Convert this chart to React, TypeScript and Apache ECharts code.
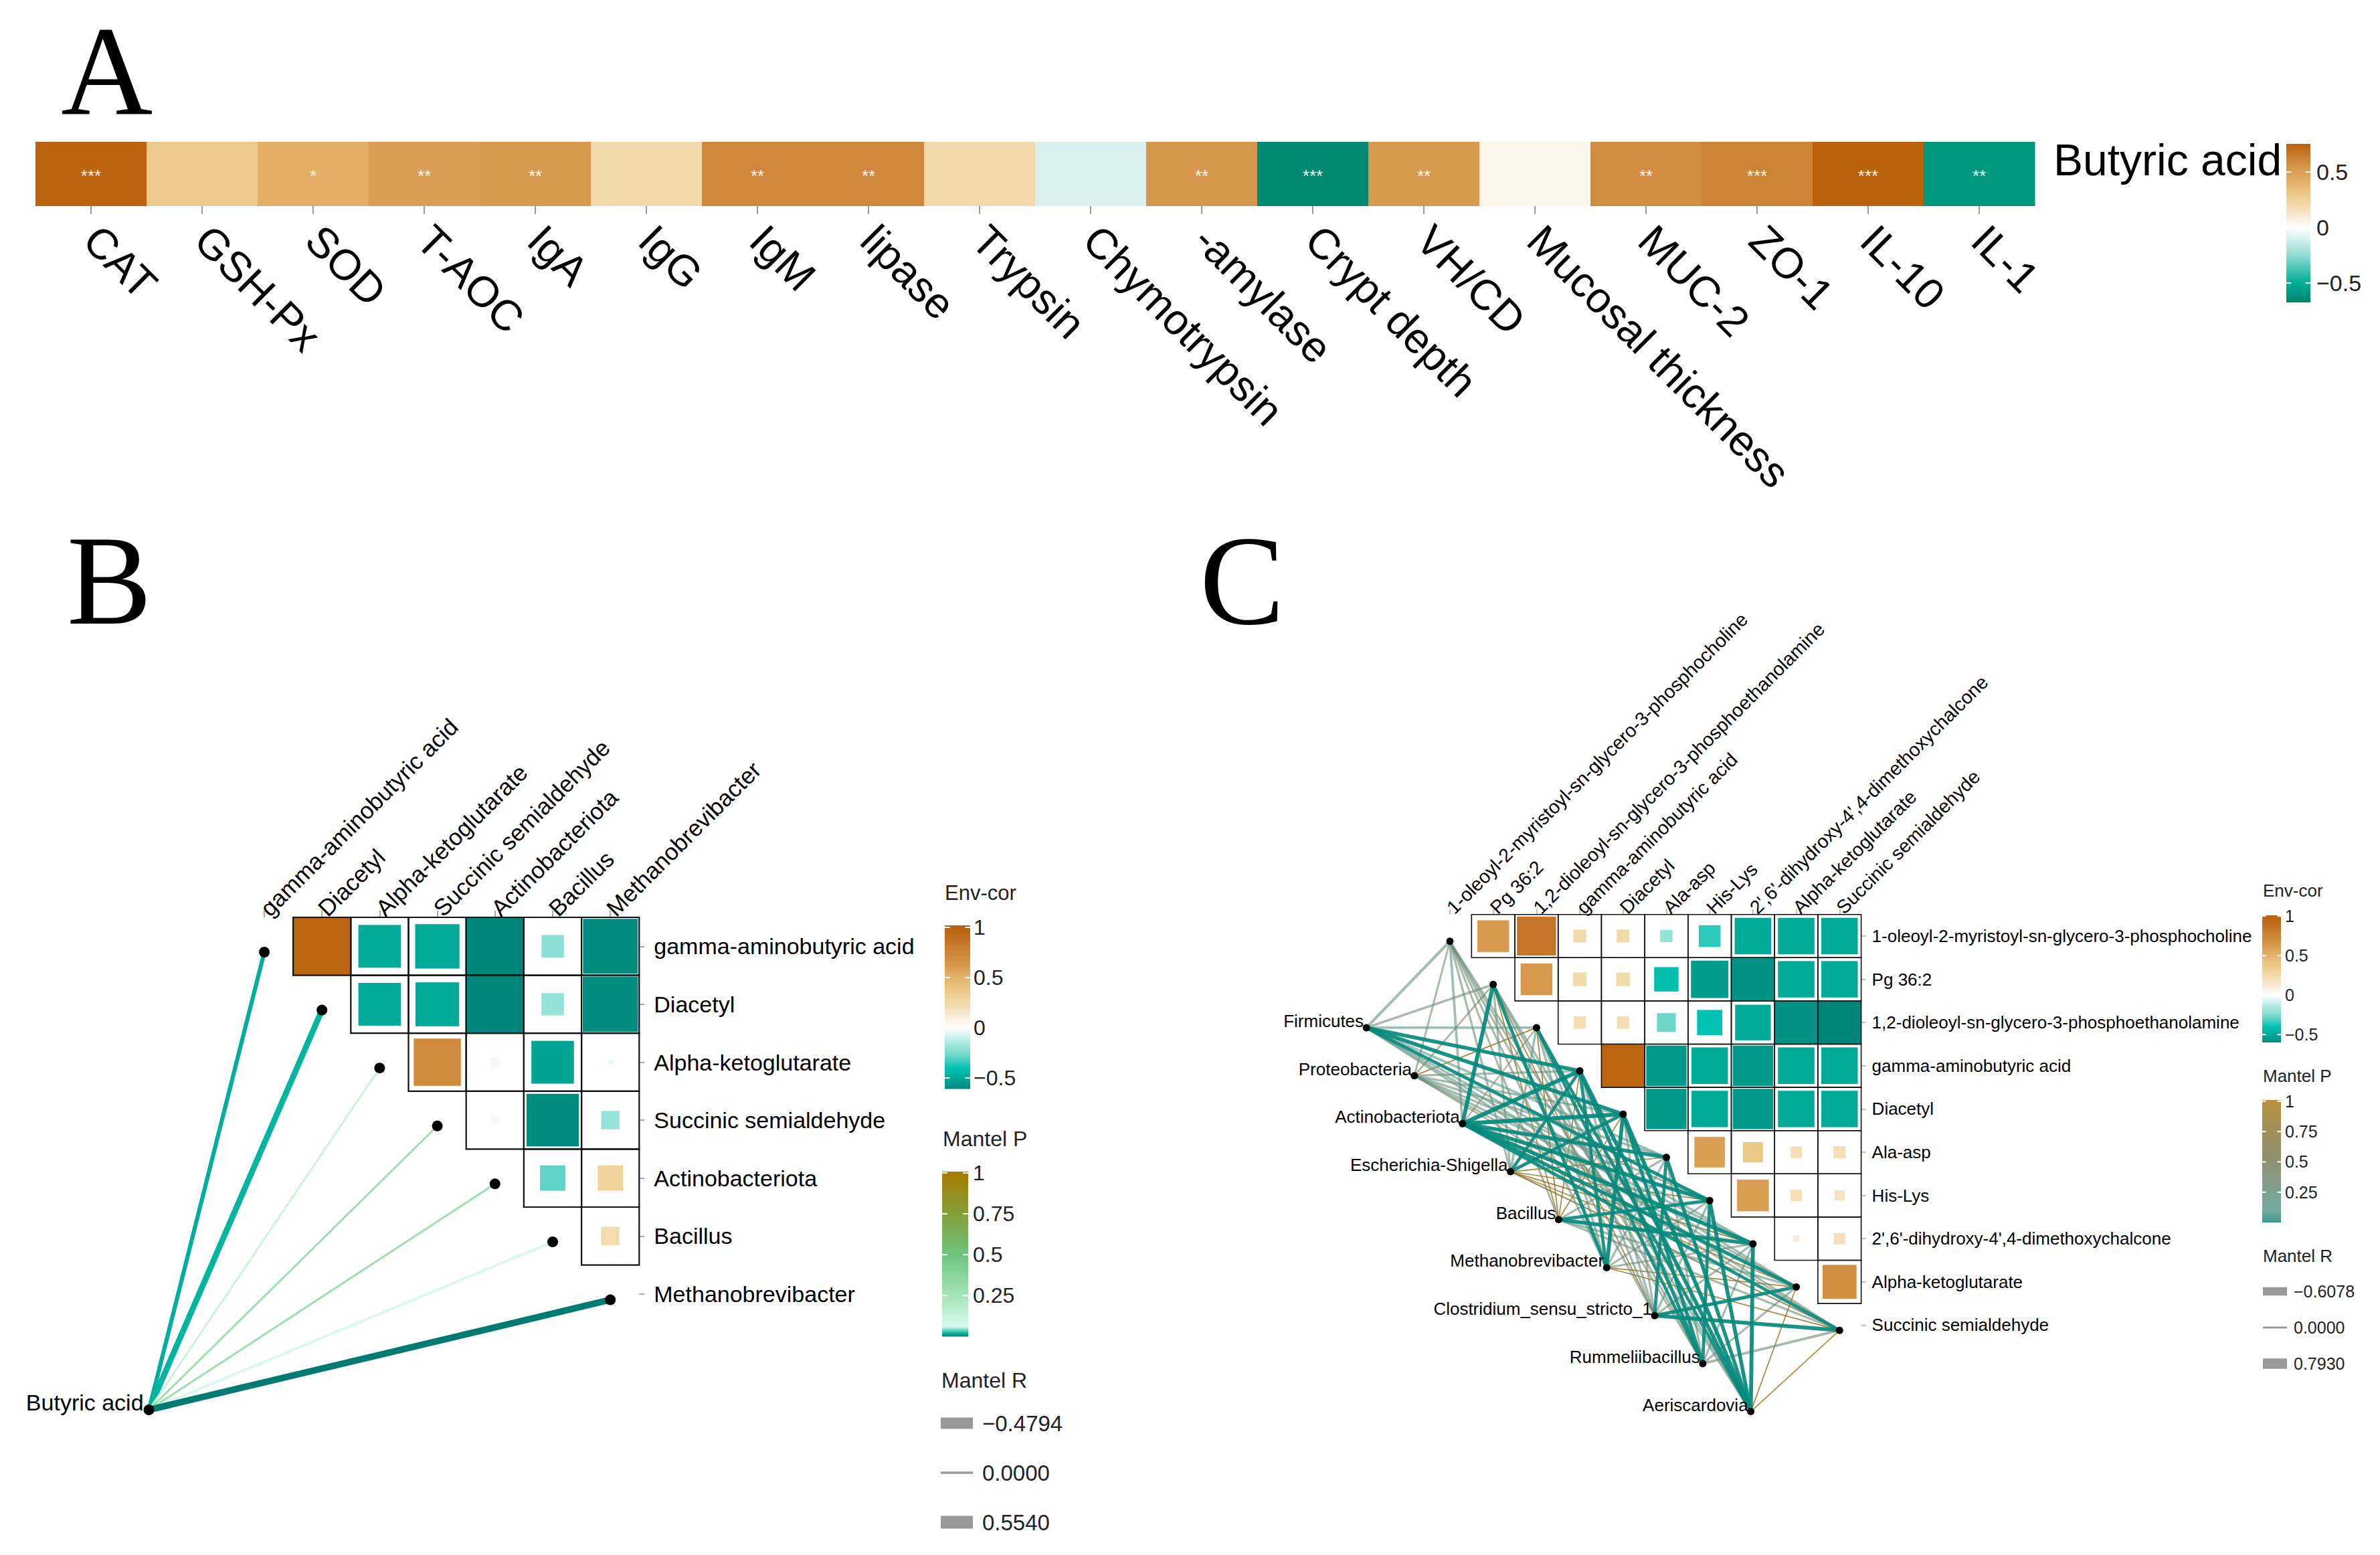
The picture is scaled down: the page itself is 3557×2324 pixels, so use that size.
import React, { useEffect, useRef } from 'react';
import * as echarts from 'echarts';

const W = 3557;
const H = 2324;
const SANS = '"Liberation Sans", Arial, Helvetica, sans-serif';
const SERIF = '"Liberation Serif", "Times New Roman", Times, serif';

// ---------------- Panel A data ----------------
const aCategories = ['CAT', 'GSH-Px', 'SOD', 'T-AOC', 'IgA', 'IgG', 'IgM', 'lipase', 'Trypsin', 'Chymotrypsin', '-amylase', 'Crypt depth', 'VH/CD', 'Mucosal thickness', 'MUC-2', 'ZO-1', 'IL-10', 'IL-1'];
const aValues = [0.74, 0.3, 0.42, 0.51, 0.53, 0.2, 0.6, 0.6, 0.2, -0.1, 0.54, -0.66, 0.53, 0.05, 0.58, 0.62, 0.75, -0.6];
const aStars = ['***', '', '*', '**', '**', '', '**', '**', '', '', '**', '***', '**', '', '**', '***', '***', '**'];
const aRowLabel = ['Butyric acid'];
const aBarTicks = [0.5, 0, -0.5];
const aBarRange = [-0.675, 0.753];

// ---------------- Panel B data ----------------
const bVars = ['gamma-aminobutyric acid', 'Diacetyl', 'Alpha-ketoglutarate', 'Succinic semialdehyde', 'Actinobacteriota', 'Bacillus', 'Methanobrevibacter'];
// [row, col, r, square side fraction]
const bCells = [
  [0, 1, 0.98, 1.0], [0, 2, -0.5, 0.75], [0, 3, -0.5, 0.78], [0, 4, -0.62, 1.0], [0, 5, -0.22, 0.4], [0, 6, -0.6, 0.96],
  [1, 2, -0.5, 0.75], [1, 3, -0.5, 0.77], [1, 4, -0.62, 1.0], [1, 5, -0.2, 0.4], [1, 6, -0.6, 0.97],
  [2, 3, 0.72, 0.83], [2, 4, 0.06, 0.17], [2, 5, -0.52, 0.75], [2, 6, -0.04, 0.1],
  [3, 4, 0.05, 0.15], [3, 5, -0.6, 0.92], [3, 6, -0.2, 0.33],
  [4, 5, -0.3, 0.45], [4, 6, 0.3, 0.45],
  [5, 6, 0.22, 0.33],
];
const bSource = 'Butyric acid';
const bMantelP = [0.018, 0.02, 0.12, 0.3, 0.28, 0.065, 0.001];
const bMantelR = [0.3, -0.4794, 0.05, 0.06, 0.08, 0.12, 0.554];
const bEnvTicks = [1, 0.5, 0, -0.5];
const bPTicks = [1, 0.75, 0.5, 0.25];
const bRLegend = [-0.4794, 0, 0.554];

// ---------------- Panel C data ----------------
const cVars = ['1-oleoyl-2-myristoyl-sn-glycero-3-phosphocholine', 'Pg 36:2', '1,2-dioleoyl-sn-glycero-3-phosphoethanolamine', 'gamma-aminobutyric acid', 'Diacetyl', 'Ala-asp', 'His-Lys', "2',6'-dihydroxy-4',4-dimethoxychalcone", 'Alpha-ketoglutarate', 'Succinic semialdehyde'];
const cSpecies = ['Firmicutes', 'Proteobacteria', 'Actinobacteriota', 'Escherichia-Shigella', 'Bacillus', 'Methanobrevibacter', 'Clostridium_sensu_stricto_1', 'Rummeliibacillus', 'Aeriscardovia'];
const cCells = [
  [0, 1, 0.62, 0.75], [0, 2, 0.85, 0.92], [0, 3, 0.25, 0.31], [0, 4, 0.25, 0.31], [0, 5, -0.2, 0.3], [0, 6, -0.35, 0.52], [0, 7, -0.5, 0.86], [0, 8, -0.5, 0.86], [0, 9, -0.5, 0.86],
  [1, 2, 0.62, 0.75], [1, 3, 0.25, 0.33], [1, 4, 0.25, 0.33], [1, 5, -0.42, 0.58], [1, 6, -0.55, 0.88], [1, 7, -0.58, 1.0], [1, 8, -0.5, 0.86], [1, 9, -0.5, 0.86],
  [2, 3, 0.22, 0.3], [2, 4, 0.22, 0.3], [2, 5, -0.28, 0.45], [2, 6, -0.4, 0.6], [2, 7, -0.5, 0.84], [2, 8, -0.58, 1.0], [2, 9, -0.62, 1.0],
  [3, 4, 0.98, 1.0], [3, 5, -0.56, 0.95], [3, 6, -0.5, 0.86], [3, 7, -0.56, 0.95], [3, 8, -0.5, 0.86], [3, 9, -0.5, 0.86],
  [4, 5, -0.56, 0.95], [4, 6, -0.5, 0.86], [4, 7, -0.56, 0.95], [4, 8, -0.5, 0.86], [4, 9, -0.5, 0.86],
  [5, 6, 0.6, 0.72], [5, 7, 0.38, 0.48], [5, 8, 0.2, 0.28], [5, 9, 0.2, 0.3],
  [6, 7, 0.6, 0.75], [6, 8, 0.2, 0.28], [6, 9, 0.18, 0.25],
  [7, 8, 0.12, 0.17], [7, 9, 0.2, 0.28],
  [8, 9, 0.7, 0.8],
];
// rows: species, cols: variables
const cMantelP = [
  [0.2, 0.3, 0.15, 0.003, 0.002, 0.1, 0.004, 0.2, 0.15, 0.25],
  [0.35, 0.5, 0.9, 0.3, 0.25, 0.2, 0.3, 0.15, 0.4, 0.45],
  [0.2, 0.001, 0.6, 0.001, 0.001, 0.003, 0.002, 0.001, 0.004, 0.005],
  [0.3, 0.25, 0.2, 0.008, 0.006, 0.85, 0.9, 0.8, 0.95, 0.7],
  [0.4, 0.92, 0.88, 0.9, 0.85, 0.3, 0.005, 0.002, 0.2, 0.3],
  [0.3, 0.004, 0.2, 0.006, 0.001, 0.25, 0.3, 0.35, 0.9, 0.85],
  [0.3, 0.88, 0.25, 0.2, 0.3, 0.006, 0.2, 0.25, 0.004, 0.002],
  [0.35, 0.3, 0.008, 0.005, 0.004, 0.3, 0.006, 0.25, 0.3, 0.35],
  [0.25, 0.2, 0.006, 0.002, 0.001, 0.003, 0.002, 0.001, 0.9, 0.95],
];
const cMantelR = [
  [0.45, 0.35, 0.4, 0.7, 0.72, 0.4, -0.6, 0.3, 0.35, 0.3],
  [0.25, 0.2, 0.05, 0.3, 0.3, 0.35, 0.3, 0.4, 0.25, 0.2],
  [0.4, 0.75, 0.15, 0.793, 0.78, 0.7, 0.72, 0.75, 0.65, 0.6],
  [0.3, 0.3, 0.35, -0.55, 0.6, 0.05, 0.04, 0.08, 0.03, 0.1],
  [0.25, 0.05, 0.06, 0.05, 0.06, 0.3, 0.62, 0.7, 0.35, 0.3],
  [0.3, 0.6, 0.35, 0.58, 0.72, 0.3, 0.3, 0.25, 0.06, 0.06],
  [0.3, 0.06, 0.3, 0.35, 0.3, -0.58, 0.35, 0.3, 0.62, 0.7],
  [0.25, 0.3, 0.55, 0.6, -0.6078, 0.3, 0.58, 0.3, 0.3, 0.4],
  [0.3, 0.35, 0.55, 0.7, 0.74, 0.66, 0.7, 0.75, 0.05, 0.04],
];
const cEnvTicks = [1, 0.5, 0, -0.5];
const cPTicks = [1, 0.75, 0.5, 0.25];
const cRLegend = [-0.6078, 0, 0.793];

// ---------------- colour scales ----------------
function hexToRgb(h: string) {
  const n = parseInt(h.slice(1), 16);
  return [(n >> 16) & 255, (n >> 8) & 255, n & 255];
}
function lerpColor(a: string, b: string, t: number) {
  const A = hexToRgb(a), B = hexToRgb(b);
  const c = A.map((x, k) => Math.round(x + (B[k] - x) * t));
  return 'rgb(' + c.join(',') + ')';
}
function makeScale(stops: Array<[number, string]>) {
  return (v: number) => {
    if (v <= stops[0][0]) return lerpColor(stops[0][1], stops[0][1], 0);
    for (let k = 1; k < stops.length; k++) {
      if (v <= stops[k][0]) {
        const t = (v - stops[k - 1][0]) / (stops[k][0] - stops[k - 1][0]);
        return lerpColor(stops[k - 1][1], stops[k][1], t);
      }
    }
    const last = stops[stops.length - 1][1];
    return lerpColor(last, last, 0);
  };
}
const aScale = makeScale([
  [-0.675, '#00846f'], [-0.6, '#00977f'], [-0.5, '#00ad98'], [-0.25, '#8fdcd2'], [-0.1, '#d8f1ee'], [0, '#ffffff'],
  [0.05, '#fcf5ea'], [0.2, '#f2d9ab'], [0.3, '#ecca8c'], [0.42, '#e2af65'], [0.52, '#d89c51'], [0.58, '#d38d42'],
  [0.62, '#cc8335'], [0.753, '#b9600a'],
]);
const envScale = makeScale([
  [-0.62, '#00857a'], [-0.56, '#00998a'], [-0.5, '#00a998'], [-0.4, '#00c2b2'], [-0.28, '#6ed6ca'], [-0.15, '#aee9e2'],
  [0, '#ffffff'], [0.12, '#f8ecd8'], [0.22, '#f3dcb0'], [0.35, '#eecd8c'], [0.5, '#e2b46d'], [0.62, '#d8994c'],
  [0.75, '#cd8538'], [0.88, '#c27022'], [1.02, '#b8600a'],
]);
const bPScale = makeScale([
  [0, '#00786e'], [0.02, '#00b5a0'], [0.06, '#d6faec'], [0.25, '#a6e4b8'], [0.5, '#6cc47e'], [0.75, '#84a038'], [1.01, '#a87a00'],
]);
const cPScale = makeScale([
  [0, '#00897b'], [0.02, '#2a8c7e'], [0.1, '#5c9a8e'], [0.3, '#6c8c76'], [0.5, '#7a7e58'], [0.75, '#8e7b3d'], [1.01, '#ae7b1c'],
]);
const bWidth = (r: number) => 2 + 14 * Math.abs(r);
const cWidth = (r: number) => 1.4 + 6 * Math.abs(r);
const cOpacity = (p: number) => (p < 0.02 ? 0.92 : p >= 0.7 ? 0.9 : 0.6);
const tickFmt = (v: number) => (v < 0 ? '\u2212' + String(Math.abs(v)) : String(v));
const rFmt = (v: number) => (v < 0 ? '\u2212' : '') + Math.abs(v).toFixed(4);

// ---------------- layout helpers (axis units) ----------------
const bNodePos = (k: number) => [k, k + 0.1];
const bSourcePos = [-2, 8];
const cVarNodePos = (k: number) => [k, k + 0.12];
const cSpeciesPos = (k: number) => [-1.93 + 1.11 * k, 2.12 + 1.11 * k];

function txt(text: string, x: number, y: number, fontSize: number, align: string, vAlign: string, fill = '#000', fontFamily = SANS) {
  return {
    type: 'text',
    style: { text, x, y, fill, fontSize, fontFamily, align, verticalAlign: vAlign, textAlign: align, textVerticalAlign: vAlign },
  };
}

function colorbarSeries(xi: number, yi: number, scale: (v: number) => string, min: number, max: number, ticks: number[], opacity = 1) {
  return {
    type: 'custom',
    xAxisIndex: xi,
    yAxisIndex: yi,
    silent: true,
    data: [[0.5, (min + max) / 2]],
    renderItem: (params: any, api: any) => {
      const cs = params.coordSys;
      const N = 160;
      const stops = [];
      for (let k = 0; k <= N; k++) {
        const v = max - ((max - min) * k) / N;
        stops.push({ offset: k / N, color: scale(v) });
      }
      const children: any[] = [
        {
          type: 'rect',
          shape: { x: cs.x, y: cs.y, width: cs.width, height: cs.height },
          style: { fill: new echarts.graphic.LinearGradient(0, 0, 0, 1, stops), opacity },
        },
      ];
      ticks.forEach((t) => {
        const y = api.coord([0, t])[1];
        const d = cs.width * 0.2;
        children.push({ type: 'line', shape: { x1: cs.x, y1: y, x2: cs.x + d, y2: y }, style: { stroke: '#ffffff', lineWidth: 2 } });
        children.push({ type: 'line', shape: { x1: cs.x + cs.width - d, y1: y, x2: cs.x + cs.width, y2: y }, style: { stroke: '#ffffff', lineWidth: 2 } });
      });
      return { type: 'group', children };
    },
  };
}

function barYAxis(gi: number, min: number, max: number, ticks: number[], fontSize: number, margin: number) {
  return {
    type: 'value', gridIndex: gi, min, max, position: 'right',
    axisLine: { show: false, onZero: false }, axisTick: { show: false }, splitLine: { show: false },
    axisLabel: { customValues: ticks, formatter: tickFmt, fontSize, color: '#222', margin, fontFamily: SANS },
  };
}
const hiddenX = (gi: number) => ({ type: 'value', gridIndex: gi, show: false, min: 0, max: 1, axisLine: { onZero: false } });

function cellSeries(xi: number, yi: number, cells: number[][], borderW: number) {
  return {
    type: 'custom', xAxisIndex: xi, yAxisIndex: yi, silent: true,
    data: cells,
    renderItem: (params: any, api: any) => {
      const i = api.value(0), j = api.value(1), r = api.value(2), s = api.value(3);
      const c = api.coord([j, i]);
      const sz = api.size([1, 1]);
      const w = Math.abs(sz[0]), h = Math.abs(sz[1]);
      const sw = w * s, sh = h * s;
      return {
        type: 'group',
        children: [
          { type: 'rect', shape: { x: c[0] - sw / 2, y: c[1] - sh / 2, width: sw, height: sh }, style: { fill: envScale(r), stroke: s < 0.99 ? 'rgba(255,255,255,0.85)' : null, lineWidth: 1.2 } },
          { type: 'rect', shape: { x: c[0] - w / 2, y: c[1] - h / 2, width: w, height: h }, style: { fill: null, stroke: '#111', lineWidth: borderW } },
        ],
      };
    },
  };
}

export default function App() {
  const ref = useRef<HTMLDivElement>(null);
  useEffect(() => {
    document.body.style.margin = '0';
    document.body.style.overflow = 'hidden';
    const chart = echarts.init(ref.current as HTMLDivElement, null, { renderer: 'svg', width: W, height: H });

    const idx7 = bVars.map((_, k) => k);
    const idx10 = cVars.map((_, k) => k);

    const bLinks = bVars.map((_, k) => [k, bMantelP[k], bMantelR[k]]);
    const cLinks: number[][] = [];
    cSpecies.forEach((_, s) => cVars.forEach((__, v) => cLinks.push([s, v, cMantelP[s][v], cMantelR[s][v]])));
    cLinks.sort((a, b) => b[2] - a[2]);

    const graphic: any[] = [
      txt('A', 91, 107, 190, 'left', 'middle', '#000', SERIF),
      txt('B', 100, 868, 190, 'left', 'middle', '#000', SERIF),
      txt('C', 1793, 868, 190, 'left', 'middle', '#000', SERIF),
      txt('Env-cor', 1412, 1334, 31, 'left', 'middle', '#222'),
      txt('Mantel P', 1409, 1702, 32, 'left', 'middle', '#222'),
      txt('Mantel R', 1407, 2063, 32, 'left', 'middle', '#222'),
      txt('Env-cor', 3382, 1331, 26, 'left', 'middle', '#222'),
      txt('Mantel P', 3382, 1608, 26, 'left', 'middle', '#222'),
      txt('Mantel R', 3382, 1877, 26, 'left', 'middle', '#222'),
    ];
    bRLegend.forEach((r, k) => {
      const yc = 2127 + k * 74;
      const hgt = 3.5 + 28 * Math.abs(r);
      graphic.push({ type: 'rect', shape: { x: 1406, y: yc - hgt / 2, width: 48, height: hgt }, style: { fill: '#999999' } });
      graphic.push(txt(rFmt(r), 1468, yc, 33, 'left', 'middle', '#222'));
    });
    cRLegend.forEach((r, k) => {
      const yc = 1930 + k * 54;
      const hgt = 3 + 16 * Math.abs(r);
      graphic.push({ type: 'rect', shape: { x: 3382, y: yc - hgt / 2, width: 36, height: hgt }, style: { fill: '#999999' } });
      graphic.push(txt(rFmt(r), 3428, yc, 25, 'left', 'middle', '#222'));
    });

    const option: any = {
      animation: false,
      backgroundColor: '#ffffff',
      textStyle: { fontFamily: SANS },
      grid: [
        { left: 53, top: 212, width: 2988, height: 96, outerBoundsMode: 'none' },
        { left: 3417, top: 215, width: 36, height: 237, outerBoundsMode: 'none' },
        { left: 179.5, top: 1371, width: 775.8, height: 779.4, outerBoundsMode: 'none' },
        { left: 1412, top: 1383, width: 38, height: 244.5, outerBoundsMode: 'none' },
        { left: 1408, top: 1751, width: 39, height: 246.5, outerBoundsMode: 'none' },
        { left: 2005.2, top: 1366.7, width: 776.4, height: 775.2, outerBoundsMode: 'none' },
        { left: 3381, top: 1368, width: 28, height: 190, outerBoundsMode: 'none' },
        { left: 3381, top: 1644, width: 28, height: 183, outerBoundsMode: 'none' },
      ],
      xAxis: [
        {
          type: 'category', gridIndex: 0, data: aCategories, position: 'bottom',
          axisLine: { show: false, onZero: false },
          axisTick: { show: true, alignWithLabel: true, length: 12, lineStyle: { color: '#9a9a9a', width: 2 } },
          axisLabel: { interval: 0, rotate: -45, fontSize: 64, color: '#000', margin: 40, fontFamily: SANS },
          splitLine: { show: false },
        },
        hiddenX(1),
        {
          type: 'value', gridIndex: 2, min: -2.5, max: 6.5, position: 'top',
          axisLine: { show: false, onZero: false }, splitLine: { show: false },
          axisTick: { show: true, customValues: idx7, length: 10, lineStyle: { color: '#aaaaaa', width: 2 } },
          axisLabel: { customValues: idx7, rotate: -45, formatter: (v: number) => bVars[Math.round(v)] || '', fontSize: 35, color: '#000', margin: 8, fontFamily: SANS },
        },
        hiddenX(3),
        hiddenX(4),
        {
          type: 'value', gridIndex: 5, min: -2.5, max: 9.5, position: 'top',
          axisLine: { show: false, onZero: false }, splitLine: { show: false },
          axisTick: { show: true, customValues: idx10, length: 8, lineStyle: { color: '#aaaaaa', width: 1.5 } },
          axisLabel: { customValues: idx10, rotate: -45, formatter: (v: number) => cVars[Math.round(v)] || '', fontSize: 28.5, color: '#000', margin: 6, fontFamily: SANS },
        },
        hiddenX(6),
        hiddenX(7),
      ],
      yAxis: [
        {
          type: 'category', gridIndex: 0, data: aRowLabel, position: 'right',
          axisLine: { show: false, onZero: false }, axisTick: { show: false }, splitLine: { show: false },
          axisLabel: { fontSize: 66, color: '#000', margin: 28, verticalAlign: 'bottom', lineHeight: 42, fontFamily: SANS },
        },
        barYAxis(1, aBarRange[0], aBarRange[1], aBarTicks, 34, 9),
        {
          type: 'value', gridIndex: 2, min: -0.5, max: 8.5, inverse: true, position: 'right',
          axisLine: { show: false, onZero: false }, splitLine: { show: false },
          axisTick: { show: true, customValues: idx7, length: 8, lineStyle: { color: '#aaaaaa', width: 2 } },
          axisLabel: { customValues: idx7, formatter: (v: number) => bVars[Math.round(v)] || '', fontSize: 34, color: '#000', margin: 22, fontFamily: SANS },
        },
        barYAxis(3, -0.61, 1.02, bEnvTicks, 32, 5),
        barYAxis(4, 0, 1.008, bPTicks, 32, 7),
        {
          type: 'value', gridIndex: 5, min: -0.5, max: 11.5, inverse: true, position: 'right',
          axisLine: { show: false, onZero: false }, splitLine: { show: false },
          axisTick: { show: true, customValues: idx10, length: 7, lineStyle: { color: '#aaaaaa', width: 1.5 } },
          axisLabel: { customValues: idx10, formatter: (v: number) => cVars[Math.round(v)] || '', fontSize: 26, color: '#000', margin: 16, fontFamily: SANS },
        },
        barYAxis(6, -0.6, 1.01, cEnvTicks, 25, 6),
        barYAxis(7, 0, 1.01, cPTicks, 25, 6),
      ],
      graphic,
      series: [
        // Panel A heatmap
        {
          type: 'custom', xAxisIndex: 0, yAxisIndex: 0, silent: true,
          data: aValues.map((v, i) => [i, 0, v]),
          renderItem: (params: any, api: any) => {
            const i = params.dataIndex;
            const c = api.coord([i, 0]);
            const sz = api.size([1, 1]);
            const w = Math.abs(sz[0]), h = Math.abs(sz[1]);
            return {
              type: 'group',
              children: [
                { type: 'rect', shape: { x: c[0] - w / 2, y: c[1] - h / 2, width: w + 0.5, height: h }, style: { fill: aScale(api.value(2)) } },
                txt(aStars[i], c[0], c[1] + 3, 26, 'center', 'middle', 'rgba(255,255,255,0.92)'),
              ],
            };
          },
        },
        colorbarSeries(1, 1, aScale, aBarRange[0], aBarRange[1], aBarTicks),
        // Panel B
        cellSeries(2, 2, bCells, 2.2),
        {
          type: 'custom', xAxisIndex: 2, yAxisIndex: 2, silent: true,
          data: bLinks,
          renderItem: (params: any, api: any) => {
            const k = api.value(0), p = api.value(1), r = api.value(2);
            const a = api.coord(bSourcePos);
            const b = api.coord(bNodePos(k));
            return { type: 'line', shape: { x1: a[0], y1: a[1], x2: b[0], y2: b[1] }, style: { stroke: bPScale(p), lineWidth: bWidth(r), lineCap: 'round' } };
          },
        },
        {
          type: 'custom', xAxisIndex: 2, yAxisIndex: 2, silent: true,
          data: bVars.map((_, k) => [k]).concat([[-1]]),
          renderItem: (params: any, api: any) => {
            const k = api.value(0);
            if (k < 0) {
              const a = api.coord(bSourcePos);
              return {
                type: 'group',
                children: [
                  { type: 'circle', shape: { cx: a[0], cy: a[1], r: 8 }, style: { fill: '#000' } },
                  txt(bSource, a[0] - 8, a[1] + 6, 34, 'right', 'bottom', '#000'),
                ],
              };
            }
            const b = api.coord(bNodePos(k));
            return { type: 'circle', shape: { cx: b[0], cy: b[1], r: 8 }, style: { fill: '#000' } };
          },
        },
        colorbarSeries(3, 3, envScale, -0.61, 1.02, bEnvTicks),
        colorbarSeries(4, 4, bPScale, 0, 1.008, bPTicks),
        // Panel C
        cellSeries(5, 5, cCells, 1.6),
        {
          type: 'custom', xAxisIndex: 5, yAxisIndex: 5, silent: true,
          data: cLinks,
          renderItem: (params: any, api: any) => {
            const s = api.value(0), v = api.value(1), p = api.value(2), r = api.value(3);
            const a = api.coord(cSpeciesPos(s));
            const b = api.coord(cVarNodePos(v));
            return { type: 'line', shape: { x1: a[0], y1: a[1], x2: b[0], y2: b[1] }, style: { stroke: cPScale(p), lineWidth: cWidth(r), opacity: cOpacity(p) } };
          },
        },
        {
          type: 'custom', xAxisIndex: 5, yAxisIndex: 5, silent: true,
          data: cVars.map((_, k) => [0, k]).concat(cSpecies.map((_, k) => [1, k])),
          renderItem: (params: any, api: any) => {
            const kind = api.value(0), k = api.value(1);
            if (kind === 0) {
              const b = api.coord(cVarNodePos(k));
              return { type: 'circle', shape: { cx: b[0], cy: b[1], r: 5.5 }, style: { fill: '#000' } };
            }
            const a = api.coord(cSpeciesPos(k));
            return {
              type: 'group',
              children: [
                { type: 'circle', shape: { cx: a[0], cy: a[1], r: 5.5 }, style: { fill: '#000' } },
                txt(cSpecies[k], a[0] - 4, a[1] + 3, 26, 'right', 'bottom', '#000'),
              ],
            };
          },
        },
        colorbarSeries(6, 6, envScale, -0.6, 1.01, cEnvTicks),
        colorbarSeries(7, 7, cPScale, 0, 1.01, cPTicks, 0.85),
      ],
    };
    chart.setOption(option);
    return () => chart.dispose();
  }, []);
  return <div ref={ref} style={{ position: 'absolute', left: 0, top: 0, width: W, height: H, background: '#fff' }} />;
}
